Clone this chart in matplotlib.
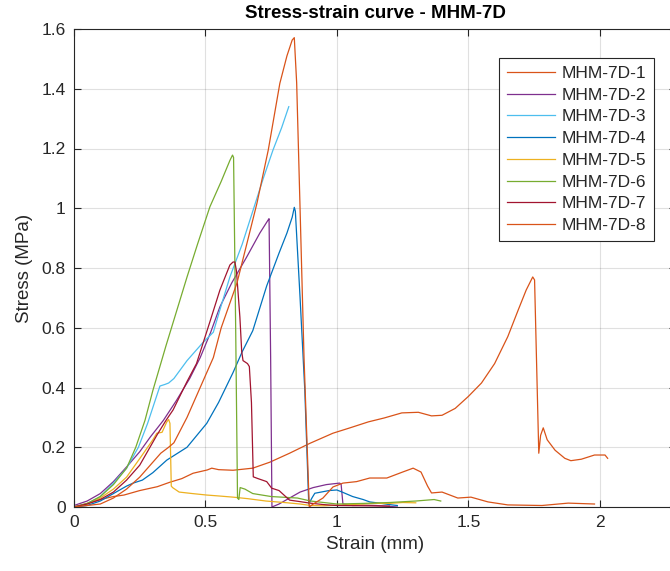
import matplotlib
matplotlib.use("Agg")
import matplotlib.pyplot as plt

# ------------------------------------------------------------
# data (strain in mm, stress in MPa)
# ------------------------------------------------------------

strain_1 = [0, 0.05, 0.1, 0.15, 0.19, 0.25, 0.317, 0.365, 0.41, 0.453, 0.507, 0.524,
            0.55, 0.605, 0.68, 0.745, 0.82, 0.897, 0.985, 1.05, 1.12, 1.18, 1.247,
            1.31, 1.36, 1.40, 1.45, 1.50, 1.55, 1.60, 1.65, 1.69, 1.72, 1.745, 1.752,
            1.768, 1.775, 1.785, 1.80, 1.83, 1.867, 1.89, 1.93, 1.98, 2.02, 2.03]
stress_1 = [0, 0.012, 0.025, 0.035, 0.04, 0.055, 0.068, 0.083, 0.095, 0.113, 0.124, 0.13,
            0.125, 0.123, 0.13, 0.15, 0.18, 0.213, 0.247, 0.265, 0.285, 0.298, 0.315,
            0.317, 0.305, 0.307, 0.33, 0.37, 0.415, 0.48, 0.57, 0.66, 0.726, 0.77, 0.76,
            0.18, 0.24, 0.265, 0.225, 0.19, 0.163, 0.155, 0.16, 0.174, 0.174, 0.163]

strain_2 = [0, 0.05, 0.1, 0.15, 0.2, 0.25, 0.29, 0.34, 0.39, 0.44, 0.48, 0.52, 0.555,
            0.6, 0.657, 0.707, 0.738, 0.742, 0.748, 0.753, 0.78, 0.81, 0.86, 0.91,
            0.96, 1.01, 1.016, 1.023, 1.06, 1.1, 1.15, 1.2, 1.23]
stress_2 = [0.005, 0.02, 0.045, 0.085, 0.134, 0.185, 0.234, 0.29, 0.357, 0.43, 0.5, 0.585,
            0.67, 0.75, 0.837, 0.917, 0.96, 0.965, 0.5, 0.0, 0.01, 0.025, 0.05, 0.065,
            0.075, 0.08, 0.077, 0.01, 0.005, 0.006, 0.005, 0.002, 0.0]

strain_3 = [0, 0.05, 0.1, 0.15, 0.2, 0.245, 0.28, 0.31, 0.327, 0.345, 0.36, 0.38, 0.43,
            0.49, 0.53, 0.555, 0.593, 0.64, 0.68, 0.72, 0.757, 0.79, 0.817]
stress_3 = [0, 0.01, 0.035, 0.08, 0.13, 0.2, 0.28, 0.36, 0.405, 0.41, 0.415, 0.43, 0.49,
            0.55, 0.585, 0.66, 0.77, 0.88, 0.99, 1.1, 1.195, 1.27, 1.34]

strain_4 = [0, 0.05, 0.1, 0.15, 0.2, 0.225, 0.26, 0.3, 0.353, 0.43, 0.505, 0.55, 0.605,
            0.64, 0.68, 0.733, 0.78, 0.81, 0.83, 0.838, 0.842, 0.86, 0.878, 0.893, 0.905,
            0.916, 0.94, 0.97, 1.0, 1.02, 1.06, 1.1, 1.125, 1.17, 1.2, 1.23]
stress_4 = [0, 0.005, 0.02, 0.045, 0.07, 0.08, 0.09, 0.115, 0.157, 0.2, 0.28, 0.35, 0.45,
            0.52, 0.59, 0.74, 0.85, 0.917, 0.97, 1.003, 0.99, 0.7, 0.39, 0.01, 0.03,
            0.046, 0.05, 0.055, 0.057, 0.05, 0.035, 0.025, 0.017, 0.012, 0.008, 0.005]

strain_5 = [0, 0.05, 0.1, 0.15, 0.2, 0.254, 0.3, 0.315, 0.335, 0.353, 0.36, 0.365, 0.37,
            0.375, 0.40, 0.45, 0.505, 0.55, 0.605, 0.66, 0.73, 0.8, 0.86, 0.9, 0.95, 1.0,
            1.05, 1.1, 1.15, 1.2, 1.25, 1.3]
stress_5 = [0, 0.01, 0.03, 0.06, 0.1, 0.167, 0.225, 0.247, 0.25, 0.285, 0.293, 0.28, 0.07,
            0.065, 0.05, 0.045, 0.04, 0.037, 0.033, 0.028, 0.02, 0.015, 0.01, 0.005, 0.004,
            0.006, 0.008, 0.01, 0.012, 0.012, 0.015, 0.014]

strain_6 = [0, 0.05, 0.1, 0.15, 0.2, 0.235, 0.27, 0.3, 0.35, 0.43, 0.47, 0.517, 0.56, 0.593,
            0.603, 0.607, 0.615, 0.622, 0.627, 0.632, 0.65, 0.68, 0.75, 0.85, 0.9, 0.95,
            1.0, 1.1, 1.2, 1.3, 1.37, 1.395]
stress_6 = [0, 0.012, 0.035, 0.075, 0.13, 0.2, 0.29, 0.39, 0.54, 0.77, 0.88, 1.005, 1.09, 1.16,
            1.178, 1.17, 0.6, 0.03, 0.025, 0.065, 0.06, 0.045, 0.035, 0.03, 0.02, 0.015,
            0.01, 0.012, 0.015, 0.02, 0.025, 0.02]

strain_7 = [0, 0.05, 0.1, 0.15, 0.2, 0.25, 0.289, 0.315, 0.35, 0.377, 0.43, 0.466, 0.517,
            0.555, 0.593, 0.605, 0.612, 0.618, 0.631, 0.638, 0.643, 0.66, 0.667, 0.675,
            0.682, 0.7, 0.733, 0.752, 0.78, 0.82, 0.86, 0.897, 0.95, 1.0, 1.1, 1.2]
stress_7 = [0, 0.01, 0.025, 0.05, 0.09, 0.14, 0.2, 0.24, 0.29, 0.325, 0.42, 0.48, 0.62,
            0.726, 0.81, 0.82, 0.82, 0.79, 0.636, 0.52, 0.49, 0.48, 0.47, 0.35,
            0.101, 0.095, 0.085, 0.063, 0.055, 0.023, 0.018, 0.013, 0.008, 0.005, 0.004, 0.003]

strain_8 = [0, 0.05, 0.1, 0.15, 0.2, 0.25, 0.3, 0.33, 0.36, 0.38, 0.43, 0.48, 0.53, 0.56,
            0.62, 0.66, 0.696, 0.739, 0.783, 0.81, 0.83, 0.838, 0.847, 0.859, 0.875, 0.895,
            0.91, 0.947, 0.985, 1.023, 1.075, 1.125, 1.19, 1.25, 1.29, 1.32, 1.345, 1.36,
            1.40, 1.46, 1.51, 1.575, 1.65, 1.78, 1.88, 1.98]
stress_8 = [0, 0.005, 0.01, 0.03, 0.06, 0.1, 0.15, 0.18, 0.2, 0.215, 0.3, 0.4, 0.5, 0.6,
            0.75, 0.89, 1.017, 1.195, 1.418, 1.51, 1.563, 1.571, 1.42, 1.03, 0.5, 0.0,
            0.01, 0.03, 0.067, 0.08, 0.085, 0.097, 0.097, 0.117, 0.13, 0.117, 0.07, 0.047,
            0.05, 0.03, 0.033, 0.017, 0.007, 0.005, 0.013, 0.01]

labels = ["MHM-7D-1", "MHM-7D-2", "MHM-7D-3", "MHM-7D-4",
          "MHM-7D-5", "MHM-7D-6", "MHM-7D-7", "MHM-7D-8"]
colors = ["#D95319", "#7E2F8E", "#4DBEEE", "#0072BD",
          "#EDB120", "#77AC30", "#A2142F", "#D95319"]

strains = [strain_1, strain_2, strain_3, strain_4, strain_5, strain_6, strain_7, strain_8]
stresses = [stress_1, stress_2, stress_3, stress_4, stress_5, stress_6, stress_7, stress_8]

# ------------------------------------------------------------
# figure
# ------------------------------------------------------------

plt.rcParams["font.family"] = ["Liberation Sans", "DejaVu Sans"]
text_col = "#262626"

fig = plt.figure(figsize=(6.7, 5.71), dpi=100)
# right edge of axes lies just outside the picture (cropped MATLAB figure)
ax = fig.add_axes([74 / 670, 64 / 571, 602 / 670, 478 / 571])

for x, y, lab, c in zip(strains, stresses, labels, colors):
    ax.plot(x, y, color=c, linewidth=0.9, label=lab)

ax.set_xlim(0, 2.29)
ax.set_ylim(0, 1.6)
ax.set_xticks([0, 0.5, 1, 1.5, 2])
ax.set_xticklabels(["0", "0.5", "1", "1.5", "2"])
ax.set_yticks([0, 0.2, 0.4, 0.6, 0.8, 1, 1.2, 1.4, 1.6])
ax.set_yticklabels(["0", "0.2", "0.4", "0.6", "0.8", "1", "1.2", "1.4", "1.6"])

ax.grid(True, color="#000000", alpha=0.12, linewidth=0.8)
ax.set_axisbelow(True)
ax.tick_params(direction="in", top=True, right=True, length=5, width=0.8,
               colors=text_col, labelsize=12.5, pad=6)
for s in ax.spines.values():
    s.set_color(text_col)
    s.set_linewidth(0.8)

ax.set_xlabel("Strain (mm)", fontsize=13.5, color=text_col, labelpad=4)
ax.set_ylabel("Stress (MPa)", fontsize=13.5, color=text_col, labelpad=6)
fig.text(375 / 670, 1 - 14 / 571, "Stress-strain curve - MHM-7D", ha="center", va="center",
         fontsize=13.5, fontweight="bold", color="#000000")

leg = ax.legend(loc="upper right", bbox_to_anchor=(654 / 670, 1 - 58 / 571),
                bbox_transform=fig.transFigure, borderaxespad=0, fancybox=False,
                framealpha=1, edgecolor=text_col, fontsize=12.5, handlelength=2.8,
                handletextpad=0.35, labelspacing=0.38, borderpad=0.45)
leg.get_frame().set_linewidth(0.8)
for t in leg.get_texts():
    t.set_color(text_col)

fig.savefig("out.png", dpi=100)
